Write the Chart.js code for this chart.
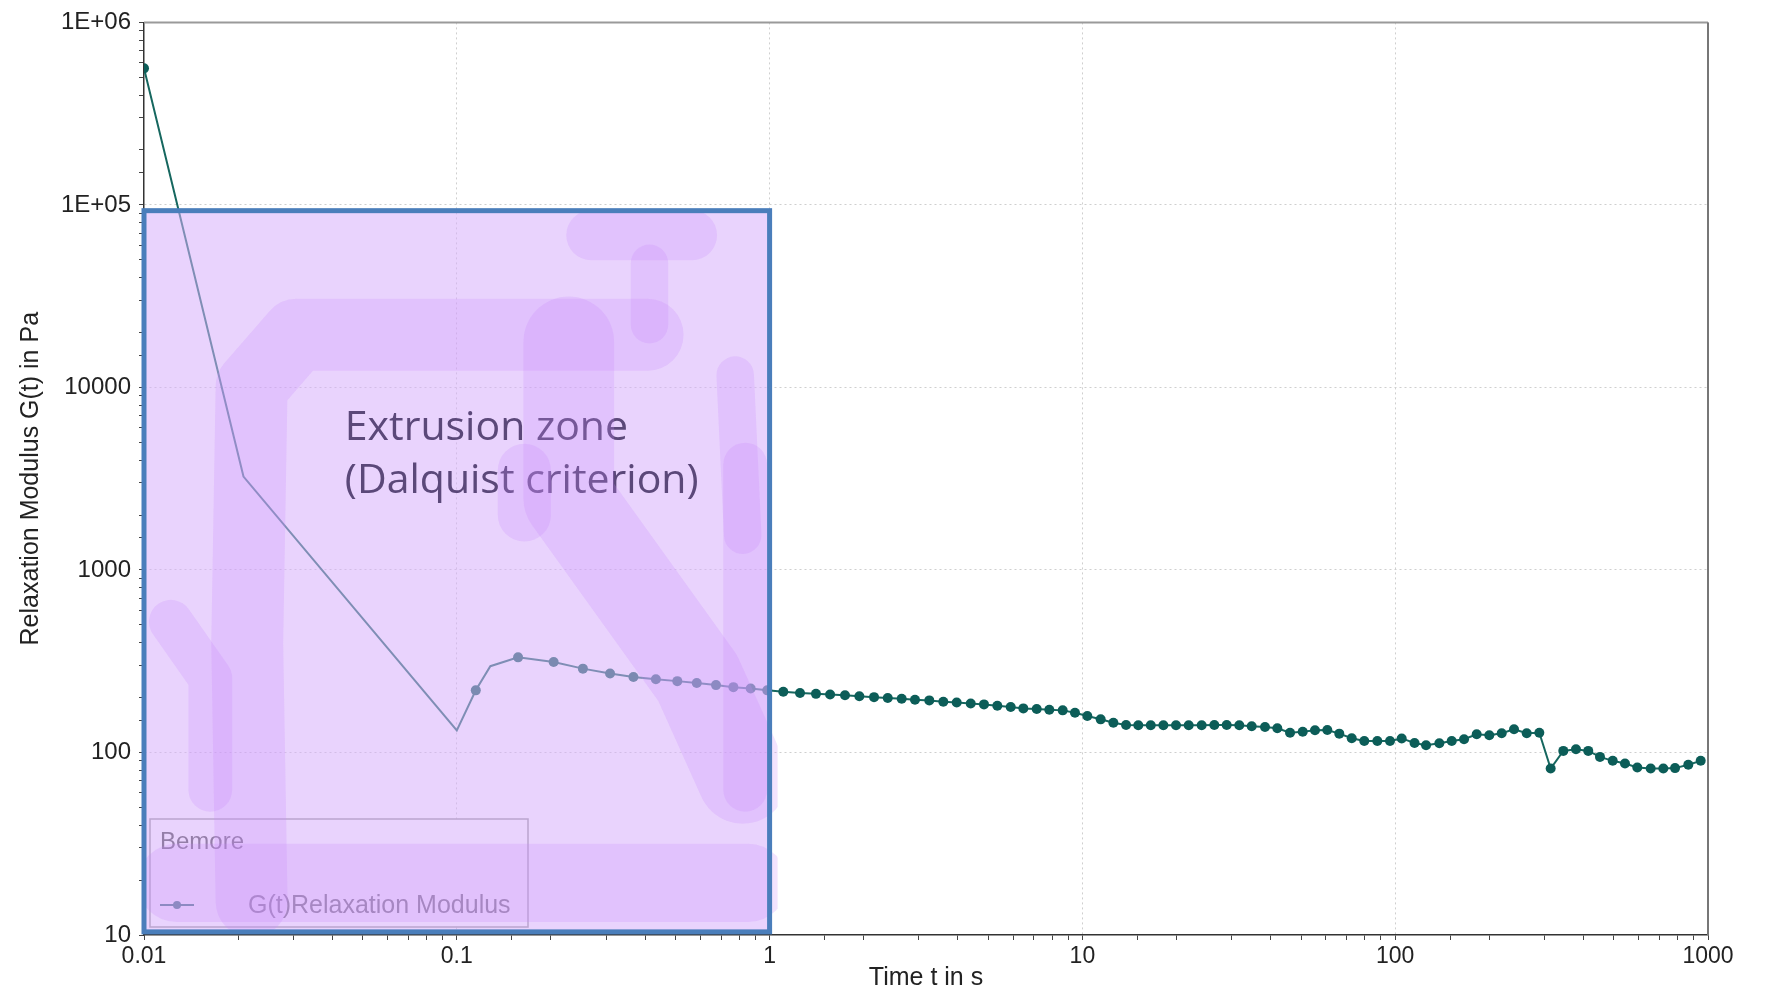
<!DOCTYPE html>
<html><head><meta charset="utf-8">
<script src="https://cdn.jsdelivr.net/npm/chart.js@4.4.0/dist/chart.umd.min.js"></script>
<style>html,body{margin:0;padding:0;background:#fff;} #wrap{width:1768px;height:993px;position:relative;}</style>
</head><body><div id="wrap"><canvas id="c" width="1768" height="993"></canvas></div>
<script>
// ---- data ----
const timeSeconds = [0.01, 0.0208, 0.1, 0.115, 0.128, 0.157, 0.204, 0.253, 0.309, 0.367, 0.433, 0.507, 0.585, 0.674, 0.766, 0.870, 0.983,
  1.106, 1.251, 1.407, 1.561, 1.742, 1.936, 2.157, 2.386, 2.644, 2.916, 3.240, 3.592, 3.964, 4.395, 4.846, 5.346, 5.900, 6.474, 7.144, 7.838, 8.650, 9.469,
  10.37, 11.44, 12.56, 13.79, 15.09, 16.54, 18.15, 19.92, 21.87, 24.06, 26.41, 28.93, 31.74, 34.77, 38.35, 41.99, 46.11, 50.62, 55.41, 60.67, 66.27, 72.61, 79.64, 87.67, 96.25,
  104.9, 115.3, 125.5, 138.4, 151.6, 166.0, 182.2, 199.9, 219.0, 239.8, 263.3, 288.9, 314.1, 344.7, 378.4, 414.2, 451.5, 495.9, 542.8, 594.3, 655.8, 719.7, 784.6, 865.0, 947.7];
const relaxationModulus = [560000, 3250, 132, 219, 297, 332, 313, 288, 271, 259, 252, 246, 240, 234, 228, 224, 219,
  215, 212, 209.5, 208, 206, 203.5, 201, 199, 196.8, 194.3, 192.9, 189.5, 188, 185.7, 183.4, 180.2, 177.3, 174.4, 172.9, 171.4, 170.1, 165.1,
  158.4, 151.9, 145.6, 141.5, 140.9, 140.9, 140.9, 140.9, 140.9, 140.9, 141.5, 141.5, 140.9, 139.1, 137.9, 135.7, 128.4, 130.0, 132.3, 132.8, 126.8, 119.7, 115.7, 115.7, 115.7,
  119.4, 112.8, 109.6, 112.4, 115.7, 118.2, 125.8, 124.3, 127.5, 134.0, 127.5, 128.4, 81.7, 102.0, 104.2, 102.0, 94.6, 90.0, 87.0, 82.8, 81.7, 81.7, 82.1, 85.6, 90.0];
const xTickValues = [0.01, 0.1, 1, 10, 100, 1000];
const xTickLabels = ['0.01', '0.1', '1', '10', '100', '1000'];
const yTickValues = [10, 100, 1000, 10000, 100000, 1000000];
const yTickLabels = ['10', '100', '1000', '10000', '1E+05', '1E+06'];
const seriesLabel = 'G(t)Relaxation Modulus';
const legendTitle = 'Bemore';
const xTitle = 'Time t in s';
const yTitle = 'Relaxation Modulus G(t) in Pa';
const zoneTextLines = ['Extrusion zone', '(Dalquist criterion)'];
const zoneTime = [0.01, 1];
const zoneModulus = [10.4, 93000];
// ------------------------------------

const hiddenMarkers = new Set([1, 2, 4]);
const TEAL = '#0c5d58';
const FONT = '"Liberation Sans", Arial, sans-serif';

function nearestIndex(arr, v) {
  for (let i = 0; i < arr.length; i++) if (Math.abs(Math.log10(arr[i]) - Math.log10(v)) < 1e-6) return i;
  return -1;
}
function isDecade(v) { const l = Math.log10(v); return Math.abs(l - Math.round(l)) < 1e-6; }

// highlighter strokes as fractions of the zone box: points and width
const zoneStrokes = [
  {pts: [[0.172, 0.958], [0.165, 0.6], [0.172, 0.244], [0.244, 0.172], [0.805, 0.172]], w: 0.115},
  {pts: [[0.043, 0.570], [0.106, 0.648], [0.106, 0.803]], w: 0.07},
  {pts: [[0.679, 0.182], [0.679, 0.399], [0.885, 0.648], [0.957, 0.787]], w: 0.145},
  {pts: [[0.961, 0.352], [0.961, 0.803]], w: 0.07},
  {pts: [[0.715, 0.034], [0.876, 0.034]], w: 0.08},
  {pts: [[0.808, 0.073], [0.808, 0.158]], w: 0.06},
  {pts: [[0.052, 0.932], [0.966, 0.932]], w: 0.125},
  {pts: [[0.608, 0.360], [0.608, 0.422]], w: 0.085},
  {pts: [[0.945, 0.228], [0.957, 0.45]], w: 0.06}
];

const overlayPlugin = {
  id: 'overlay',
  afterDraw(chart) {
    const {ctx, chartArea: ca, scales: {x, y}} = chart;
    ctx.save();
    // top and right frame
    ctx.strokeStyle = '#9a9a9a'; ctx.lineWidth = 2;
    ctx.beginPath(); ctx.moveTo(ca.left, ca.top); ctx.lineTo(ca.right, ca.top); ctx.stroke();
    ctx.strokeStyle = '#777'; ctx.beginPath(); ctx.moveTo(ca.right, ca.top); ctx.lineTo(ca.right, ca.bottom); ctx.stroke();

    // legend box
    const lx = ca.left + 6, lw = 378, lh = 108, ly = ca.bottom - 8 - lh;
    ctx.fillStyle = '#fff'; ctx.fillRect(lx, ly, lw, lh);
    ctx.strokeStyle = '#999'; ctx.lineWidth = 1.5; ctx.strokeRect(lx, ly, lw, lh);
    ctx.textBaseline = 'alphabetic'; ctx.textAlign = 'left';
    ctx.font = '24px ' + FONT; ctx.fillStyle = '#444';
    ctx.fillText(legendTitle, lx + 10, ly + 30);
    ctx.strokeStyle = TEAL; ctx.lineWidth = 2;
    ctx.beginPath(); ctx.moveTo(lx + 10, ly + 86); ctx.lineTo(lx + 44, ly + 86); ctx.stroke();
    ctx.fillStyle = TEAL; ctx.beginPath(); ctx.arc(lx + 27, ly + 86, 4, 0, Math.PI * 2); ctx.fill();
    ctx.font = '25px ' + FONT; ctx.fillStyle = '#555';
    ctx.fillText(seriesLabel, lx + 98, ly + 94);

    // zone
    const x0 = x.getPixelForValue(zoneTime[0]), x1 = x.getPixelForValue(zoneTime[1]);
    const y0 = y.getPixelForValue(zoneModulus[1]), y1 = y.getPixelForValue(zoneModulus[0]);
    const zw = x1 - x0, zh = y1 - y0;
    ctx.fillStyle = 'rgba(215,175,252,0.55)';
    ctx.fillRect(x0, y0, zw, zh);

    // text
    ctx.font = '41px "Open Sans", sans-serif';
    ctx.fillStyle = '#5b4879';
    ctx.fillText(zoneTextLines[0], x0 + 0.321 * zw, y0 + 0.318 * zh);
    ctx.fillText(zoneTextLines[1], x0 + 0.321 * zw, y0 + 0.392 * zh);

    // highlighter strokes
    ctx.save();
    ctx.beginPath(); ctx.rect(x0, y0, zw + 8, zh); ctx.clip();
    ctx.strokeStyle = 'rgba(200,140,252,0.24)';
    ctx.lineCap = 'round'; ctx.lineJoin = 'round';
    zoneStrokes.forEach(s => {
      ctx.lineWidth = s.w * zw;
      ctx.beginPath();
      s.pts.forEach((p, i) => {
        const px = x0 + p[0] * zw, py = y0 + p[1] * zh;
        if (i === 0) ctx.moveTo(px, py); else ctx.lineTo(px, py);
      });
      ctx.stroke();
    });
    ctx.restore();

    // blue border
    ctx.strokeStyle = '#4a7ebb'; ctx.lineWidth = 5;
    ctx.strokeRect(x0, y0, zw, zh);
    ctx.restore();
  }
};

new Chart(document.getElementById('c'), {
  type: 'line',
  data: {
    datasets: [{
      label: seriesLabel,
      data: timeSeconds.map((t, i) => ({x: t, y: relaxationModulus[i]})),
      borderColor: '#16675f',
      backgroundColor: TEAL,
      borderWidth: 2,
      pointRadius: ctx => hiddenMarkers.has(ctx.dataIndex) ? 0 : 5,
      pointBackgroundColor: TEAL,
      pointBorderColor: TEAL,
      pointBorderWidth: 0,
      tension: 0,
      fill: false
    }]
  },
  plugins: [overlayPlugin],
  options: {
    responsive: false,
    animation: false,
    devicePixelRatio: 1,
    layout: {padding: {left: 0, right: 60, top: 18, bottom: 0}},
    plugins: {legend: {display: false}, tooltip: {enabled: false}},
    scales: {
      x: {
        type: 'logarithmic', position: 'bottom', min: 0.01, max: 1000,
        afterFit: s => { s.height = 58; },
        ticks: {
          autoSkip: false, maxRotation: 0, minRotation: 0, padding: 3, color: '#222',
          font: {family: FONT, size: 23},
          callback: v => { const i = nearestIndex(xTickValues, v); return i >= 0 ? xTickLabels[i] : ''; }
        },
        grid: {
          color: c => (c.tick && isDecade(c.tick.value) && c.tick.value > 0.011) ? '#cfcfcf' : 'rgba(0,0,0,0)',
          tickColor: '#444', tickLength: 5, lineWidth: 1
        },
        border: {color: '#333', width: 1.5, dash: [2, 3]},
        title: {display: true, text: xTitle, color: '#222', font: {family: FONT, size: 25}, padding: {top: 0, bottom: 0}}
      },
      y: {
        type: 'logarithmic', position: 'left', min: 10, max: 1000000,
        afterFit: s => { s.width = 144; },
        ticks: {
          autoSkip: false, padding: 8, color: '#222',
          font: {family: FONT, size: 24},
          callback: v => { const i = nearestIndex(yTickValues, v); return i >= 0 ? yTickLabels[i] : ''; }
        },
        grid: {
          color: c => (c.tick && isDecade(c.tick.value) && c.tick.value > 11 && c.tick.value < 900000) ? '#cfcfcf' : 'rgba(0,0,0,0)',
          tickColor: '#444', tickLength: 5, lineWidth: 1
        },
        border: {color: '#333', width: 1.5, dash: [2, 3]},
        title: {display: true, text: yTitle, color: '#222', font: {family: FONT, size: 25}, padding: {top: 16, bottom: 0}}
      }
    }
  }
});
</script>
</body></html>
